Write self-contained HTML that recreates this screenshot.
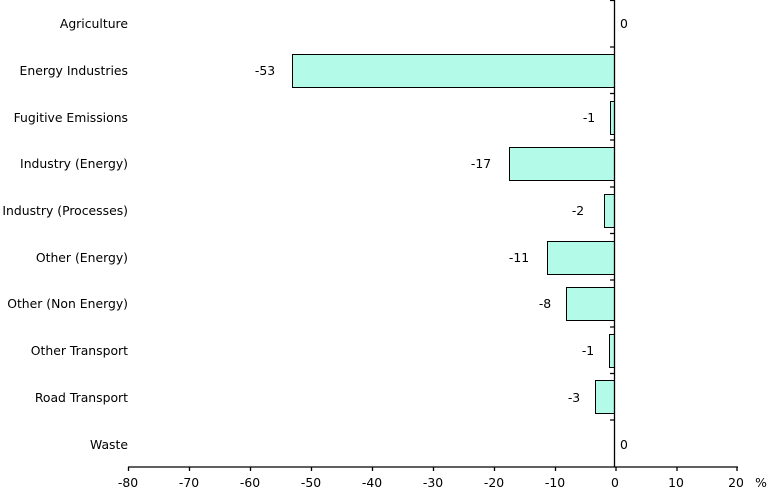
<!DOCTYPE html><html><head><style>body{margin:0;background:#fff}svg{display:block}text{font-family:"DejaVu Sans","Liberation Sans",sans-serif;font-size:12.4px;fill:#000}</style></head><body>
<svg width="768" height="492" xmlns="http://www.w3.org/2000/svg">
<g fill="#b3fbe8" stroke="#000" stroke-width="1">
<rect x="292.5" y="54.5" width="322" height="33"/>
<rect x="610.5" y="101.5" width="4" height="33"/>
<rect x="509.5" y="147.5" width="105" height="33"/>
<rect x="604.5" y="194.5" width="10" height="33"/>
<rect x="547.5" y="241.5" width="67" height="33"/>
<rect x="566.5" y="287.5" width="48" height="33"/>
<rect x="609.5" y="334.5" width="5" height="33"/>
<rect x="595.5" y="380.5" width="19" height="33"/>
</g>
<g stroke="#000" stroke-width="1.3">
<line x1="614.5" y1="0" x2="614.5" y2="467"/>
<line x1="128" y1="467" x2="738" y2="467"/>
<path d="M128.5 467v4M189.5 467v4M250.5 467v4M311.5 467v4M372.5 467v4M433.5 467v4M494.5 467v4M555.5 467v4M616 467v4M677 467v4M737 467v4"/>
<path d="M610 47h5M610 93.5h5M610 140h5M610 187h5M610 233.5h5M610 280h5M610 327h5M610 373.5h5M610 420h5M610 0.5h5"/>
</g>
<g text-anchor="end">
<text x="128" y="28">Agriculture</text>
<text x="128" y="75">Energy Industries</text>
<text x="128" y="122">Fugitive Emissions</text>
<text x="128" y="168">Industry (Energy)</text>
<text x="128" y="215">Industry (Processes)</text>
<text x="128" y="262">Other (Energy)</text>
<text x="128" y="308">Other (Non Energy)</text>
<text x="128" y="355">Other Transport</text>
<text x="128" y="402">Road Transport</text>
<text x="128" y="449">Waste</text>
</g>
<g text-anchor="middle">
<text x="624" y="28">0</text>
<text x="265" y="75">-53</text>
<text x="589" y="122">-1</text>
<text x="481" y="168">-17</text>
<text x="578" y="215">-2</text>
<text x="519" y="262">-11</text>
<text x="545" y="308">-8</text>
<text x="588" y="355">-1</text>
<text x="574" y="402">-3</text>
<text x="624" y="449">0</text>
<text x="128" y="487">-80</text><text x="189" y="487">-70</text><text x="250" y="487">-60</text><text x="311" y="487">-50</text><text x="372" y="487">-40</text><text x="433" y="487">-30</text><text x="494" y="487">-20</text><text x="555" y="487">-10</text><text x="615" y="487">0</text><text x="676" y="487">10</text><text x="736" y="487">20</text>
<text x="761" y="487">%</text>
</g>
</svg></body></html>
